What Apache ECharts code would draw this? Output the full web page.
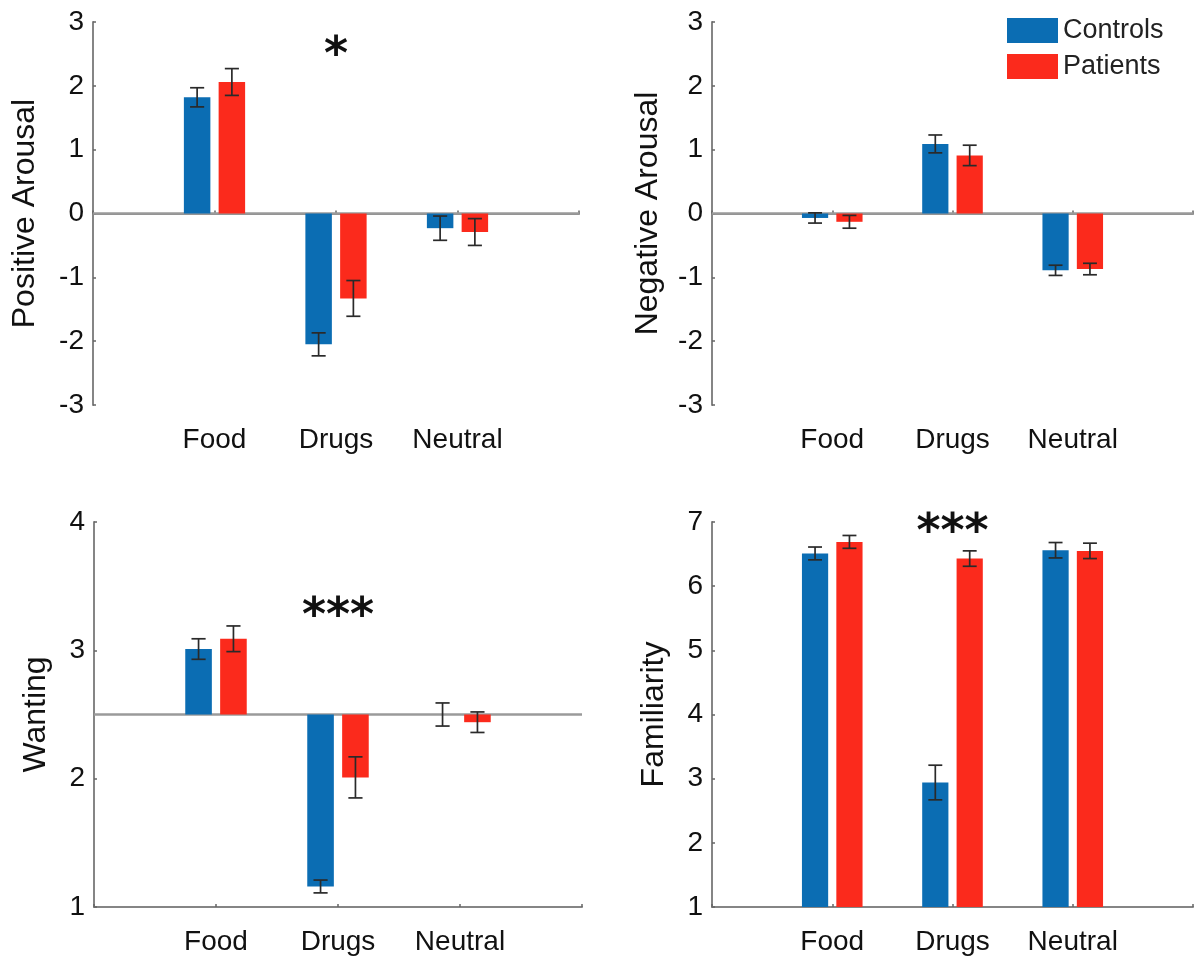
<!DOCTYPE html>
<html>
<head>
<meta charset="utf-8">
<script src="https://cdn.jsdelivr.net/npm/echarts@6/dist/echarts.min.js"></script>
<style>
  html, body { margin: 0; padding: 0; background: #fff; }
  #chart { width: 1196px; height: 958px; }
</style>
</head>
<body>
<div id="chart"></div>
<script>
// Category names along each x axis (positions 1..3 on a 0..4 axis)
const categories = ['Food', 'Drugs', 'Neutral'];
const groups = ['Controls', 'Patients'];

// Positive arousal: means and standard errors
const posArousalControls = [1.82, -2.05, -0.23];
const posArousalControlsErr = [0.15, 0.18, 0.19];
const posArousalPatients = [2.06, -1.33, -0.29];
const posArousalPatientsErr = [0.21, 0.28, 0.21];

// Negative arousal
const negArousalControls = [-0.07, 1.09, -0.89];
const negArousalControlsErr = [0.08, 0.14, 0.08];
const negArousalPatients = [-0.13, 0.91, -0.87];
const negArousalPatientsErr = [0.10, 0.16, 0.09];

// Wanting (bars drawn from the scale midpoint 2.5)
const wantingControls = [3.01, 1.16, 2.50];
const wantingControlsErr = [0.08, 0.05, 0.09];
const wantingPatients = [3.09, 2.01, 2.44];
const wantingPatientsErr = [0.10, 0.16, 0.08];

// Familiarity
const familiarityControls = [6.51, 2.94, 6.56];
const familiarityControlsErr = [0.10, 0.27, 0.12];
const familiarityPatients = [6.69, 6.43, 6.55];
const familiarityPatientsErr = [0.10, 0.12, 0.12];

// Y tick ranges
const posArousalTicks = [-3, 3];
const negArousalTicks = [-3, 3];
const wantingTicks = [1, 4];
const familiarityTicks = [1, 7];

const BLUE = '#0b6db3';
const RED = '#fb2a1c';
const AXIS_GRAY = '#858585';
const TEXT = '#111';
const FONT = '"Liberation Sans", Arial, Helvetica, sans-serif';

const grids = [
  { left: 93, top: 22, width: 486, height: 383 },
  { left: 712, top: 22, width: 486, height: 383 },
  { left: 94, top: 522, width: 488, height: 385 },
  { left: 712, top: 522, width: 486, height: 385 }
];

function xAxisFor(i) {
  return {
    type: 'value', gridIndex: i, min: 0, max: 4, interval: 1,
    axisLine: { show: true, lineStyle: { color: AXIS_GRAY, width: 2 } },
    axisTick: { show: true, inside: true, length: 3, lineStyle: { color: '#666', width: 1.5 } },
    splitLine: { show: false },
    axisLabel: {
      margin: 21, fontSize: 28, color: TEXT, fontFamily: FONT,
      formatter: v => categories[v - 1] || ''
    }
  };
}

function yAxisFor(i, range, name, gap) {
  return {
    type: 'value', gridIndex: i, min: range[0], max: range[1], interval: 1,
    name: name, nameLocation: 'middle', nameGap: gap, nameRotate: 90,
    nameTextStyle: { fontSize: 32, color: TEXT, fontFamily: FONT },
    axisLine: { show: true, lineStyle: { color: AXIS_GRAY, width: 2 } },
    axisTick: { show: true, inside: true, length: 3, lineStyle: { color: '#666', width: 1.5 } },
    splitLine: { show: false },
    axisLabel: { margin: 9, fontSize: 28, color: TEXT, fontFamily: FONT }
  };
}

// Bar with error bar, drawn from a baseline value
function barSeries(name, color, gi, means, errs, base, side) {
  return {
    type: 'custom', name: name, xAxisIndex: gi, yAxisIndex: gi,
    itemStyle: { color: color },
    encode: { x: 0, y: 1 },
    z: 3,
    data: means.map((m, k) => [k + 1, m, errs[k]]),
    renderItem: function (params, api) {
      const xi = api.value(0), m = api.value(1), e = api.value(2);
      const band = api.size([1, 0])[0];
      const bw = band * 0.218;
      const cx = api.coord([xi, m])[0] + side * band * 0.143;
      const top = api.coord([xi, m])[1];
      const bot = api.coord([xi, base])[1];
      const hi = api.coord([xi, m + e])[1];
      const lo = api.coord([xi, m - e])[1];
      const cap = band * 0.058;
      const errStyle = { stroke: '#2a2a2a', lineWidth: 1.7 };
      return {
        type: 'group',
        children: [
          { type: 'rect', shape: { x: cx - bw / 2, y: Math.min(top, bot), width: bw, height: Math.abs(bot - top) },
            style: { fill: api.visual('color') } },
          { type: 'line', shape: { x1: cx, y1: hi, x2: cx, y2: lo }, style: errStyle },
          { type: 'line', shape: { x1: cx - cap, y1: hi, x2: cx + cap, y2: hi }, style: errStyle },
          { type: 'line', shape: { x1: cx - cap, y1: lo, x2: cx + cap, y2: lo }, style: errStyle }
        ]
      };
    }
  };
}

// Horizontal reference line at the bar baseline
function baseLine(gi, base) {
  return {
    type: 'line', xAxisIndex: gi, yAxisIndex: gi, silent: true, symbol: 'none', z: 1,
    lineStyle: { color: '#9a9a9a', width: 2.5 },
    data: [[0, base], [4, base]]
  };
}

// Significance marker above the Drugs pair
function starLabel(gi, text, yVal) {
  return {
    type: 'custom', xAxisIndex: gi, yAxisIndex: gi, silent: true, z: 4,
    encode: { x: 0, y: 1 },
    data: [[2, yVal]],
    renderItem: function (params, api) {
      const p = api.coord([api.value(0), api.value(1)]);
      return {
        type: 'text', x: p[0], y: p[1],
        style: { text: text, fill: '#111', fontSize: 46, fontWeight: 'bold',
                 fontFamily: '"DejaVu Sans", sans-serif',
                 align: 'center', verticalAlign: 'middle' }
      };
    }
  };
}

const option = {
  backgroundColor: '#fff',
  animation: false,
  grid: grids,
  xAxis: [0, 1, 2, 3].map(xAxisFor),
  yAxis: [
    yAxisFor(0, posArousalTicks, 'Positive Arousal', 52),
    yAxisFor(1, negArousalTicks, 'Negative Arousal', 48),
    yAxisFor(2, wantingTicks, 'Wanting', 42),
    yAxisFor(3, familiarityTicks, 'Familiarity', 42)
  ],
  legend: {
    orient: 'vertical', left: 1007, top: 17, padding: 0,
    itemWidth: 51, itemHeight: 25, itemGap: 9, icon: 'rect',
    textStyle: { fontSize: 27, color: '#222', fontFamily: FONT },
    data: [
      { name: groups[0], itemStyle: { color: BLUE } },
      { name: groups[1], itemStyle: { color: RED } }
    ]
  },
  series: [
    baseLine(0, 0), baseLine(1, 0), baseLine(2, 2.5),
    barSeries(groups[0], BLUE, 0, posArousalControls, posArousalControlsErr, 0, -1),
    barSeries(groups[1], RED, 0, posArousalPatients, posArousalPatientsErr, 0, 1),
    barSeries(groups[0], BLUE, 1, negArousalControls, negArousalControlsErr, 0, -1),
    barSeries(groups[1], RED, 1, negArousalPatients, negArousalPatientsErr, 0, 1),
    barSeries(groups[0], BLUE, 2, wantingControls, wantingControlsErr, 2.5, -1),
    barSeries(groups[1], RED, 2, wantingPatients, wantingPatientsErr, 2.5, 1),
    barSeries(groups[0], BLUE, 3, familiarityControls, familiarityControlsErr, 1, -1),
    barSeries(groups[1], RED, 3, familiarityPatients, familiarityPatientsErr, 1, 1),
    starLabel(0, '*', 2.45),
    starLabel(2, '***', 3.25),
    starLabel(3, '***', 6.81)
  ]
};

const chart = echarts.init(document.getElementById('chart'), null, { renderer: 'canvas' });
chart.setOption(option);
</script>
</body>
</html>
